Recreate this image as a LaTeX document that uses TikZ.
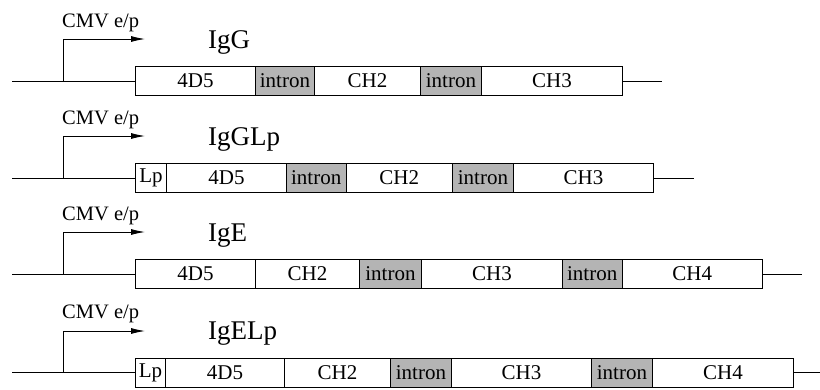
\documentclass[tikz,border=0pt]{standalone}
\usepackage{fontspec}
\setmainfont{Liberation Serif}
\usetikzlibrary{arrows.meta}
\definecolor{introngray}{RGB}{180,180,180}
\tikzset{
  seg/.style={draw, line width=0.9pt, minimum height=29pt, inner sep=0pt, anchor=west,
    font=\fontsize{21}{21}\selectfont},
  intr/.style={seg, fill=introngray},
  wire/.style={line width=0.9pt},
  prom/.style={line width=0.9pt, -{Latex[length=14pt,width=6pt]}},
  cmv/.style={anchor=base west, inner sep=0pt, font=\fontsize{20.5}{20.5}\selectfont},
  title/.style={anchor=base west, inner sep=0pt, font=\fontsize{27}{27}\selectfont}
}
\begin{document}
\begin{tikzpicture}[x=1pt,y=-1pt]
\useasboundingbox (0,0) rectangle (820,389);
% ---------- Row 1: IgG ----------
\node[seg, minimum width=120pt] (a1) at (135,81) {4D5};
\node[intr, minimum width=59pt] (a2) at (255,81) {intron};
\node[seg, minimum width=106pt] (a3) at (314,81) {CH2};
\node[intr, minimum width=61pt] (a4) at (420,81) {intron};
\node[seg, minimum width=141pt] (a5) at (481,81) {CH3};
\coordinate (aL) at (12,81);
\coordinate (aP) at (63,81);
\coordinate (aT) at (145,39);
\coordinate (aR) at (662,81);
\draw[wire] (aL) -- (a1.west);
\draw[wire] (a5.east) -- (aR);
\draw[prom] (aP) |- (aT);
\node[cmv] (acmv) at (62,27) {CMV e/p};
\node[title] (atitle) at (208,48) {IgG};
% ---------- Row 2: IgGLp ----------
\node[seg, minimum width=31pt] (b0) at (135,178) {Lp};
\node[seg, minimum width=120pt] (b1) at (166,178) {4D5};
\node[intr, minimum width=59.5pt] (b2) at (286,178) {intron};
\node[seg, minimum width=106.5pt] (b3) at (345.5,178) {CH2};
\node[intr, minimum width=61pt] (b4) at (452,178) {intron};
\node[seg, minimum width=140pt] (b5) at (513,178) {CH3};
\coordinate (bL) at (12,178);
\coordinate (bP) at (63,178);
\coordinate (bT) at (145,136);
\coordinate (bR) at (694,178);
\draw[wire] (bL) -- (b0.west);
\draw[wire] (b5.east) -- (bR);
\draw[prom] (bP) |- (bT);
\node[cmv] (bcmv) at (62,124) {CMV e/p};
\node[title] (btitle) at (208,145) {IgGLp};
% ---------- Row 3: IgE ----------
\node[seg, minimum width=120pt] (c1) at (135,274) {4D5};
\node[seg, minimum width=104pt] (c2) at (255,274) {CH2};
\node[intr, minimum width=62pt] (c3) at (359,274) {intron};
\node[seg, minimum width=141pt] (c4) at (421,274) {CH3};
\node[intr, minimum width=59.5pt] (c5) at (562,274) {intron};
\node[seg, minimum width=140.5pt] (c6) at (621.5,274) {CH4};
\coordinate (cL) at (12,274);
\coordinate (cP) at (63,274);
\coordinate (cT) at (145,232);
\coordinate (cR) at (802,274);
\draw[wire] (cL) -- (c1.west);
\draw[wire] (c6.east) -- (cR);
\draw[prom] (cP) |- (cT);
\node[cmv] (ccmv) at (62,220) {CMV e/p};
\node[title] (ctitle) at (208,241) {IgE};
% ---------- Row 4: IgELp ----------
\node[seg, minimum width=30pt] (d0) at (135,372.5) {Lp};
\node[seg, minimum width=119pt] (d1) at (165,372.5) {4D5};
\node[seg, minimum width=106pt] (d2) at (284,372.5) {CH2};
\node[intr, minimum width=61pt] (d3) at (390,372.5) {intron};
\node[seg, minimum width=140pt] (d4) at (451,372.5) {CH3};
\node[intr, minimum width=61pt] (d5) at (591,372.5) {intron};
\node[seg, minimum width=141pt] (d6) at (652,372.5) {CH4};
\coordinate (dL) at (12,372.5);
\coordinate (dP) at (63,372.5);
\coordinate (dT) at (145,331);
\coordinate (dR) at (820,372.5);
\draw[wire] (dL) -- (d0.west);
\draw[wire] (d6.east) -- (dR);
\draw[prom] (dP) |- (dT);
\node[cmv] (dcmv) at (62,318) {CMV e/p};
\node[title] (dtitle) at (208,339) {IgELp};
\end{tikzpicture}
\end{document}
